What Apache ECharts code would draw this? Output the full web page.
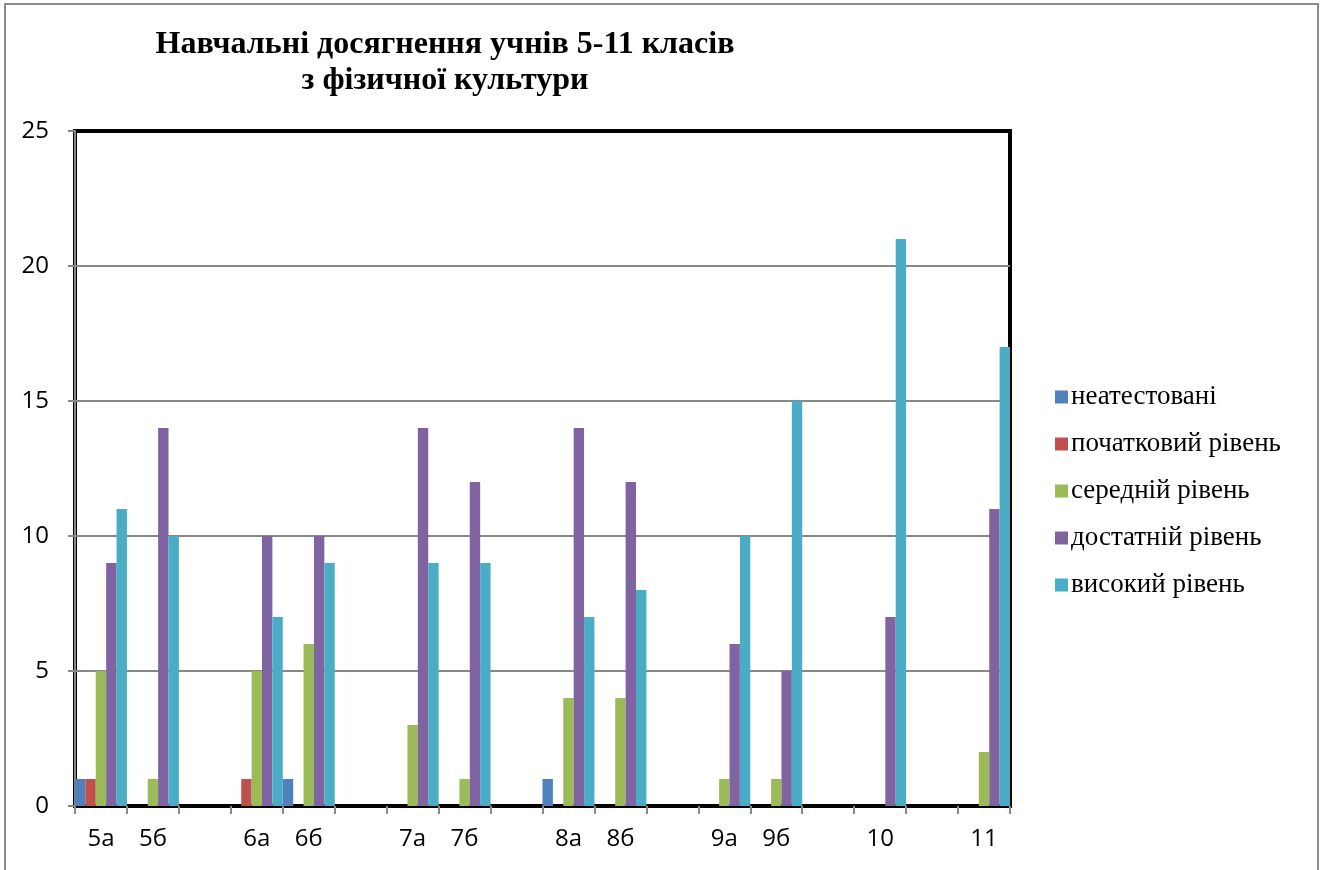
<!DOCTYPE html>
<html>
<head>
<meta charset="utf-8">
<script src="https://cdn.jsdelivr.net/npm/echarts@6/dist/echarts.min.js"></script>
<style>
  html, body { margin: 0; padding: 0; background: #fff; }
  #main { width: 1323px; height: 870px; }
</style>
</head>
<body>
<div id="main"></div>
<script>
// класи (порожні рядки - проміжки між паралелями)
var classes = ['5а', '5б', '', '6а', '6б', '', '7а', '7б', '', '8а', '8б', '', '9а', '9б', '', '10', '', '11'];

var seriesNames = ['неатестовані', 'початковий рівень', 'середній рівень', 'достатній рівень', 'високий рівень'];

var notCertified = [1, 0, 0, 0, 1, 0, 0, 0, 0, 1, 0, 0, 0, 0, 0, 0, 0, 0];
var initialLevel = [1, 0, 0, 1, 0, 0, 0, 0, 0, 0, 0, 0, 0, 0, 0, 0, 0, 0];
var averageLevel = [5, 1, 0, 5, 6, 0, 3, 1, 0, 4, 4, 0, 1, 1, 0, 0, 0, 2];
var sufficientLevel = [9, 14, 0, 10, 10, 0, 14, 12, 0, 14, 12, 0, 6, 5, 0, 7, 0, 11];
var highLevel = [11, 10, 0, 7, 9, 0, 9, 9, 0, 7, 8, 0, 10, 15, 0, 21, 0, 17];

var yTicks = [0, 5, 10, 15, 20, 25];

var colors = ['#4F81BD', '#C0504D', '#9BBB59', '#8064A2', '#4BACC6'];
var allData = [notCertified, initialLevel, averageLevel, sufficientLevel, highLevel];

var chart = echarts.init(document.getElementById('main'));

var series = seriesNames.map(function (name, i) {
  return {
    name: name,
    type: 'bar',
    data: allData[i],
    barGap: '0%',
    barCategoryGap: '0%',
    itemStyle: { color: colors[i] }
  };
});

chart.setOption({
  animation: false,
  color: colors,
  title: {
    text: 'Навчальні досягнення учнів 5-11 класів\nз фізичної культури',
    left: 440,
    top: 22,
    textAlign: 'center',
    textStyle: {
      fontFamily: '"Liberation Serif", "DejaVu Serif", serif',
      fontWeight: 'bold',
      fontSize: 32,
      lineHeight: 36,
      color: '#000'
    }
  },
  graphic: [{
    type: 'rect',
    shape: { x: 5, y: 4, width: 1313, height: 900 },
    style: { fill: 'none', stroke: '#8c8c8c', lineWidth: 2 },
    silent: true
  }],
  legend: {
    orient: 'vertical',
    left: 1050,
    top: 378,
    itemWidth: 13,
    itemHeight: 13,
    itemGap: 19,
    icon: 'rect',
    data: seriesNames,
    textStyle: {
      fontFamily: '"Liberation Serif", "DejaVu Serif", serif',
      fontSize: 27,
      lineHeight: 28,
      color: '#000',
      padding: [0, 0, 0, -2]
    }
  },
  grid: {
    left: 75,
    right: 313,
    top: 131,
    bottom: 64,
    show: true,
    borderColor: '#000',
    borderWidth: 4,
    containLabel: false
  },
  xAxis: {
    type: 'category',
    data: classes,
    boundaryGap: true,
    axisLine: { show: true, lineStyle: { color: '#000', width: 2 } },
    axisTick: { show: true, interval: 0, length: 8, lineStyle: { color: '#888', width: 2 } },
    axisLabel: {
      interval: 0,
      margin: 21,
      fontFamily: '"Open Sans", "Noto Sans", sans-serif',
      fontSize: 24,
      color: '#000'
    },
    splitLine: { show: false }
  },
  yAxis: {
    type: 'value',
    min: yTicks[0],
    max: yTicks[yTicks.length - 1],
    interval: 5,
    axisLine: { show: true, lineStyle: { color: '#888', width: 2 } },
    axisTick: { show: true, length: 7, lineStyle: { color: '#888', width: 2 } },
    axisLabel: {
      margin: 26,
      fontFamily: '"Open Sans", "Noto Sans", sans-serif',
      fontSize: 24,
      color: '#000'
    },
    splitLine: { show: true, showMaxLine: false, showMinLine: false, lineStyle: { color: '#888', width: 2 } }
  },
  series: series
});
</script>
</body>
</html>
